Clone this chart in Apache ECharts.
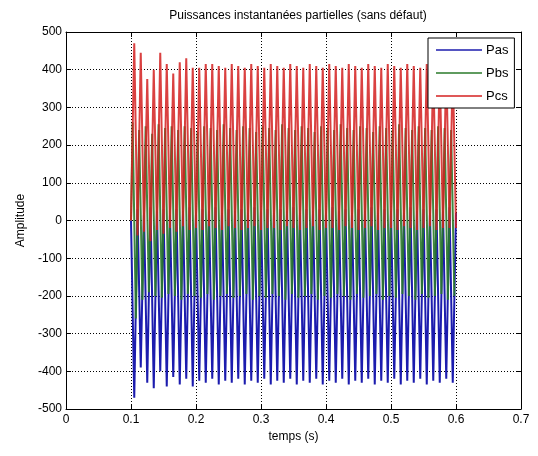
<!DOCTYPE html>
<html>
<head>
<meta charset="utf-8">
<script src="https://cdn.jsdelivr.net/npm/echarts@6/dist/echarts.min.js"></script>
<style>html,body{margin:0;padding:0;background:#fff;}#c{width:538px;height:456px;}</style>
</head>
<body>
<div id="c"></div>
<script>
const xTicks = [0, 0.1, 0.2, 0.3, 0.4, 0.5, 0.6, 0.7];
const yTicks = [-500, -400, -300, -200, -100, 0, 100, 200, 300, 400, 500];
const seriesNames = ['Pas', 'Pbs', 'Pcs'];

const t = [0.100,0.105,0.110,0.115,0.120,0.125,0.130,0.135,0.140,0.145,0.150,
0.155,0.160,0.165,0.170,0.175,0.180,0.185,0.190,0.195,0.200,
0.205,0.210,0.215,0.220,0.225,0.230,0.235,0.240,0.245,0.250,
0.255,0.260,0.265,0.270,0.275,0.280,0.285,0.290,0.295,0.300,
0.305,0.310,0.315,0.320,0.325,0.330,0.335,0.340,0.345,0.350,
0.355,0.360,0.365,0.370,0.375,0.380,0.385,0.390,0.395,0.400,
0.405,0.410,0.415,0.420,0.425,0.430,0.435,0.440,0.445,0.450,
0.455,0.460,0.465,0.470,0.475,0.480,0.485,0.490,0.495,0.500,
0.505,0.510,0.515,0.520,0.525,0.530,0.535,0.540,0.545,0.550,
0.555,0.560,0.565,0.570,0.575,0.580,0.585,0.590,0.595,0.600];

const tb = [0.1000,0.1025,0.1075,0.1125,0.1175,0.1225,0.1275,0.1325,0.1375,0.1425,0.1475,
0.1525,0.1575,0.1625,0.1675,0.1725,0.1775,0.1825,0.1875,0.1925,0.1975,
0.2025,0.2075,0.2125,0.2175,0.2225,0.2275,0.2325,0.2375,0.2425,0.2475,
0.2525,0.2575,0.2625,0.2675,0.2725,0.2775,0.2825,0.2875,0.2925,0.2975,
0.3025,0.3075,0.3125,0.3175,0.3225,0.3275,0.3325,0.3375,0.3425,0.3475,
0.3525,0.3575,0.3625,0.3675,0.3725,0.3775,0.3825,0.3875,0.3925,0.3975,
0.4025,0.4075,0.4125,0.4175,0.4225,0.4275,0.4325,0.4375,0.4425,0.4475,
0.4525,0.4575,0.4625,0.4675,0.4725,0.4775,0.4825,0.4875,0.4925,0.4975,
0.5025,0.5075,0.5125,0.5175,0.5225,0.5275,0.5325,0.5375,0.5425,0.5475,
0.5525,0.5575,0.5625,0.5675,0.5725,0.5775,0.5825,0.5875,0.5925,0.5975];

const pas = [0,-470,30,-390,20,-430,35,-445,25,-400,30,
-440,15,-415,30,-435,25,-420,35,-440,20,
-425,30,-430,25,-420,35,-435,20,-425,30,
-430,25,-420,30,-435,20,-425,35,-430,25,
-420,30,-435,20,-425,30,-430,25,-420,35,
-435,20,-425,30,-430,25,-420,30,-435,20,
-425,35,-430,25,-420,30,-435,20,-425,30,
-430,25,-420,35,-435,20,-425,30,-430,25,
-420,30,-435,20,-425,35,-430,25,-420,30,
-435,20,-425,30,-430,25,-420,35,-430,20];

const pbs = [0,260,-260,240,-210,250,-190,230,-200,255,-205,
245,-195,250,-200,240,-210,250,-195,245,-200,
235,-205,250,-195,245,-210,240,-200,255,-195,
245,-205,240,-200,250,-195,245,-210,235,-200,
250,-205,245,-195,240,-200,255,-210,245,-195,
240,-205,250,-200,245,-195,235,-210,250,-200,
245,-205,240,-195,255,-200,245,-210,240,-195,
250,-205,245,-200,235,-195,250,-210,245,-200,
240,-205,255,-195,245,-200,240,-210,250,-195,
245,-205,240,-200,250,-195,245,-210,240,-200];

const pcs = [0,470,-40,445,-30,375,-55,400,-25,445,-35,
415,-20,390,-30,420,-15,430,-25,405,-20,
405,-25,415,-15,415,-20,410,-25,405,-15,
415,-20,410,-25,405,-20,415,-15,410,-25,
405,-20,415,-20,410,-25,405,-15,415,-20,
410,-25,405,-20,415,-15,410,-25,405,-20,
415,-20,410,-25,405,-15,415,-20,410,-25,
405,-20,415,-15,410,-25,405,-20,415,-20,
410,-25,405,-15,415,-20,410,-25,405,-20,
415,-15,410,-25,405,-20,415,-20,410,-20];

const colors = ['#1c1cae', '#2a7a2a', '#d42020'];
const FONT = "'Liberation Sans', Arial, sans-serif";

const chart = echarts.init(document.getElementById('c'), null, {renderer: 'canvas'});
const zip = (xs, ys) => xs.map((x, i) => [x, ys[i]]);

const baseX = {
  type: 'value', min: xTicks[0], max: xTicks[xTicks.length - 1], interval: 0.1,
  axisLine: {show: true, onZero: false, lineStyle: {color: '#000', width: 1}},
  axisTick: {show: true, inside: true, length: 5, lineStyle: {color: '#000'}},
};
const baseY = {
  type: 'value', min: yTicks[0], max: yTicks[yTicks.length - 1], interval: 100,
  axisLine: {show: true, onZero: false, lineStyle: {color: '#000', width: 1}},
  axisTick: {show: true, inside: true, length: 5, lineStyle: {color: '#000'}},
};

chart.setOption({
  animation: false,
  backgroundColor: '#fff',
  title: {
    text: 'Puissances instantanées partielles (sans défaut)',
    left: 293, top: 5, textAlign: 'center',
    textStyle: {fontFamily: FONT, fontSize: 12, fontWeight: 'normal', color: '#000'}
  },
  grid: {left: 66, right: 17, top: 32, bottom: 47, containLabel: false},
  legend: {
    data: seriesNames,
    orient: 'vertical',
    left: 428, top: 38,
    backgroundColor: '#fff',
    borderColor: '#000', borderWidth: 1,
    padding: [5, 6, 5, 8],
    icon: 'rect',
    itemWidth: 46, itemHeight: 1.5, itemGap: 9,
    textStyle: {fontFamily: FONT, fontSize: 13, color: '#000', lineHeight: 14, padding: [0, 0, 0, -1]}
  },
  xAxis: [
    Object.assign({}, baseX, {
      position: 'bottom',
      name: 'temps (s)', nameLocation: 'middle', nameGap: 22,
      nameTextStyle: {fontFamily: FONT, fontSize: 12, color: '#000'},
      axisLabel: {fontFamily: FONT, fontSize: 12, color: '#000', margin: 5,
        formatter: v => String(Math.round(v * 10) / 10)},
      splitLine: {show: true, lineStyle: {type: [1, 2], color: '#000', width: 1}}
    }),
    Object.assign({}, baseX, {position: 'top', axisLabel: {show: false}, splitLine: {show: false}})
  ],
  yAxis: [
    Object.assign({}, baseY, {
      position: 'left',
      name: 'Amplitude', nameLocation: 'middle', nameGap: 38,
      nameTextStyle: {fontFamily: FONT, fontSize: 12, color: '#000'},
      axisLabel: {fontFamily: FONT, fontSize: 12, color: '#000', margin: 4},
      splitLine: {show: true, lineStyle: {type: [1, 2], color: '#000', width: 1}}
    }),
    Object.assign({}, baseY, {position: 'right', axisLabel: {show: false}, splitLine: {show: false}})
  ],
  series: [
    {name: seriesNames[0], type: 'line', data: zip(t, pas), symbol: 'none', color: colors[0],
      lineStyle: {width: 2, color: colors[0]}, xAxisIndex: 0, yAxisIndex: 0},
    {name: seriesNames[1], type: 'line', data: zip(tb, pbs), symbol: 'none', color: colors[1],
      lineStyle: {width: 2, color: colors[1], opacity: 0.9}, xAxisIndex: 0, yAxisIndex: 0},
    {name: seriesNames[2], type: 'line', data: zip(t, pcs), symbol: 'none', color: colors[2],
      lineStyle: {width: 2, color: colors[2], opacity: 0.85}, xAxisIndex: 0, yAxisIndex: 0}
  ]
});
</script>
</body>
</html>
